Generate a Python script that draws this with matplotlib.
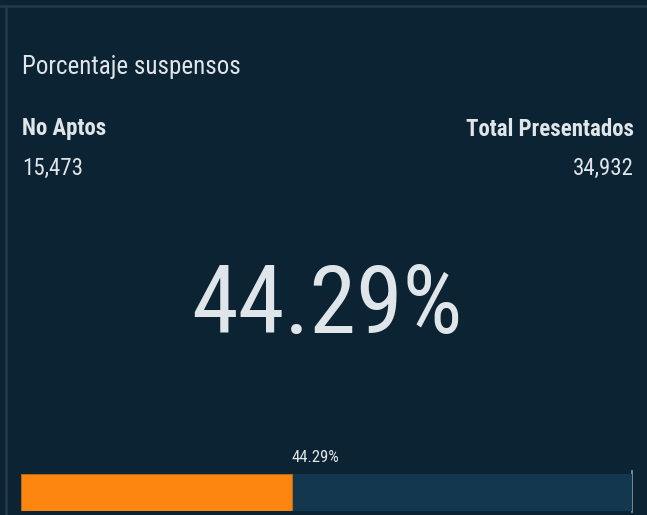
import matplotlib
matplotlib.use('Agg')
from matplotlib import pyplot as plt

# KPI values
titulo = 'Porcentaje suspensos'
etiqueta_izq = 'No Aptos'
etiqueta_der = 'Total Presentados'
no_aptos = 15473
total_presentados = 34932
porcentaje = 44.29

fam = ['Roboto Condensed', 'DejaVu Sans']
bg = '#0b2333'
txt = '#dfe5e8'

fig = plt.figure(figsize=(6.47, 5.15), dpi=100, facecolor=bg)

# overlay axes in pixel coordinates for the text
ax = fig.add_axes([0, 0, 1, 1])
ax.set_xlim(0, 647)
ax.set_ylim(515, 0)
ax.axis('off')

# panel borders
ax.plot([0, 647], [6, 6], color='#1e3a4b', lw=2)
ax.plot([6, 6], [6, 515], color='#1e3a4b', lw=2)

ax.text(22, 67, titulo, fontsize=18, color=txt, family=fam, va='center', ha='left')
ax.text(22, 129, etiqueta_izq, fontsize=16.5, color=txt, family=fam, weight='bold', va='center', ha='left')
ax.text(22, 168, f'{no_aptos:,}', fontsize=16.5, color=txt, family=fam, va='center', ha='left')
ax.text(634, 129, etiqueta_der, fontsize=16.5, color=txt, family=fam, weight='bold', va='center', ha='right')
ax.text(634, 168, f'{total_presentados:,}', fontsize=16.5, color=txt, family=fam, va='center', ha='right')

ax.text(327, 333, f'{porcentaje:.2f}%', fontsize=68, color=txt, family=fam,
        va='baseline', ha='center')

# progress bar
bx = fig.add_axes([21/647, 4/515, 611/647, 37/515])
bx.set_xlim(0, 100)
bx.set_ylim(-0.5, 0.5)
bx.axis('off')
bx.barh(0, 100, height=1, color='#12374e')
bx.barh(0, porcentaje, height=1, color='#fd8610', edgecolor='#b86a1a', lw=0.8)
ax.plot([632, 632], [471, 512], color='#8a9aa5', lw=1.2)
ax.text(21 + 611 * porcentaje / 100, 458, f'{porcentaje:.2f}%', fontsize=12, color=txt,
        family=fam, va='center', ha='left')

fig.savefig('out.png', dpi=100, facecolor=bg)
